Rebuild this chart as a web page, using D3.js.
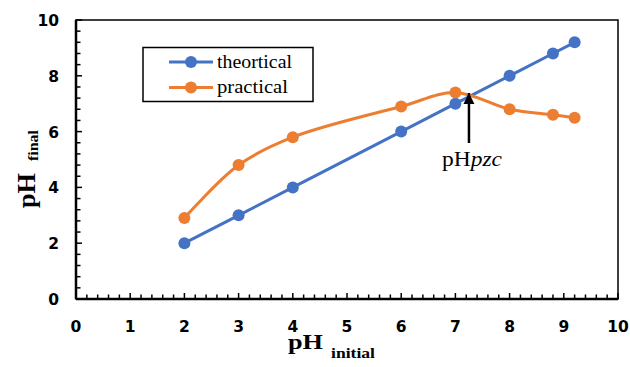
<!DOCTYPE html>
<html><head><meta charset="utf-8">
<script src="https://cdn.jsdelivr.net/npm/d3@7"></script>
<style>body{margin:0;background:#fff}svg{display:block}</style>
</head><body>
<svg id="c" width="630" height="367"></svg>
<script>
const phInitial = [2, 3, 4, 6, 7, 8, 8.8, 9.2];
const theortical = [2, 3, 4, 6, 7, 8, 8.8, 9.2];
const practical = [2.9, 4.8, 5.8, 6.9, 7.4, 6.8, 6.6, 6.5];
const xTicks = [0,1,2,3,4,5,6,7,8,9,10];
const yTicks = [0,2,4,6,8,10];
const seriesNames = ["theortical", "practical"];
const colors = ["#4472C4", "#ED7D31"];
const pzc = 7.25;

const svg = d3.select("#c");
const x = d3.scaleLinear().domain([0,10]).range([76,618]);
const y = d3.scaleLinear().domain([0,10]).range([299,20]);

// frame
svg.append("rect").attr("x",x(0)).attr("y",y(10)).attr("width",x(10)-x(0)).attr("height",y(0)-y(10))
  .attr("fill","none").attr("stroke","#000").attr("stroke-width",1.5);

// minor ticks
const xMinor = d3.range(0,10.001,0.2);
const yMinor = d3.range(0,10.001,0.4);
svg.append("g").selectAll("line").data(xMinor).join("line")
  .attr("x1",d=>x(d)).attr("x2",d=>x(d)).attr("y1",y(0)).attr("y2",d=>y(0)-(Math.abs(d-Math.round(d))<1e-6?6:4.5))
  .attr("stroke","#000").attr("stroke-width",1.5);
svg.append("g").selectAll("line").data(yMinor).join("line")
  .attr("y1",d=>y(d)).attr("y2",d=>y(d)).attr("x1",x(0)).attr("x2",d=>x(0)+(Math.abs(d/2-Math.round(d/2))<1e-6?6:4.5))
  .attr("stroke","#000").attr("stroke-width",1.5);

// axes lines
svg.append("line").attr("x1",x(0)).attr("x2",x(10)).attr("y1",y(0)).attr("y2",y(0)).attr("stroke","#000").attr("stroke-width",2.5);
svg.append("line").attr("x1",x(0)).attr("x2",x(0)).attr("y1",y(0)).attr("y2",y(10)).attr("stroke","#000").attr("stroke-width",2.5);

// tick labels
const tf = "'DejaVu Sans', sans-serif";
svg.append("g").selectAll("text").data(xTicks).join("text")
  .attr("x",d=>x(d)).attr("y",332).attr("text-anchor","middle")
  .attr("font-family",tf).attr("font-weight","bold").attr("font-size",15.5).text(d=>d);
svg.append("g").selectAll("text").data(yTicks).join("text")
  .attr("x",59).attr("y",d=>y(d)+6).attr("text-anchor","end")
  .attr("font-family",tf).attr("font-weight","bold").attr("font-size",15.5).text(d=>d);

// axis titles
const sf = "'Liberation Serif', 'Times New Roman', serif";
svg.append("text").attr("x",288).attr("y",349).attr("font-family",sf).attr("font-weight","bold").attr("font-size",20)
  .attr("textLength",35).attr("lengthAdjust","spacingAndGlyphs").text("pH");
svg.append("text").attr("x",331).attr("y",358).attr("font-family",sf).attr("font-weight","bold").attr("font-size",15)
  .attr("textLength",44).attr("lengthAdjust","spacingAndGlyphs").text("initial");
svg.append("text").attr("transform","translate(35,208) rotate(-90)").attr("font-family",sf).attr("font-weight","bold").attr("font-size",26)
  .attr("textLength",35).attr("lengthAdjust","spacingAndGlyphs").text("pH");
svg.append("text").attr("transform","translate(38,161) rotate(-90)").attr("font-family",sf).attr("font-weight","bold").attr("font-size",15)
  .attr("textLength",31).attr("lengthAdjust","spacingAndGlyphs").text("final");

// lines
const dataSets = [theortical, practical];
const curves = [d3.curveLinear, d3.curveCatmullRom.alpha(0.5)];
dataSets.forEach((vals,i)=>{
  const pts = phInitial.map((v,j)=>[v, vals[j]]);
  svg.append("path").attr("d", d3.line().x(d=>x(d[0])).y(d=>y(d[1])).curve(curves[i])(pts))
    .attr("fill","none").attr("stroke",colors[i]).attr("stroke-width",3);
});
dataSets.forEach((vals,i)=>{
  svg.append("g").selectAll("circle").data(phInitial.map((v,j)=>[v, vals[j]])).join("circle")
    .attr("cx",d=>x(d[0])).attr("cy",d=>y(d[1])).attr("r",6).attr("fill",colors[i]);
});

// legend
const legW = [75, 71];
svg.append("rect").attr("x",143).attr("y",47.5).attr("width",170).attr("height",54).attr("fill","#fff").attr("stroke","#000").attr("stroke-width",1.5);
seriesNames.forEach((n,i)=>{
  const yy = 62 + i*25.5;
  svg.append("line").attr("x1",169).attr("x2",213).attr("y1",yy).attr("y2",yy).attr("stroke",colors[i]).attr("stroke-width",3);
  svg.append("circle").attr("cx",191).attr("cy",yy).attr("r",6).attr("fill",colors[i]);
  svg.append("text").attr("x",217).attr("y",yy+5.5).attr("font-family",sf).attr("font-size",19)
    .attr("textLength",legW[i]).attr("lengthAdjust","spacingAndGlyphs").text(n);
});

// annotation arrow
svg.append("defs").append("marker").attr("id","ah").attr("viewBox","0 0 10 10").attr("refX",10).attr("refY",5)
  .attr("markerWidth",4.5).attr("markerHeight",4.5).attr("markerUnits","strokeWidth").attr("orient","auto")
  .append("path").attr("d","M0,0L10,5L0,10z").attr("fill","#000");
svg.append("line").attr("x1",x(pzc)).attr("x2",x(pzc)).attr("y1",143).attr("y2",93)
  .attr("stroke","#000").attr("stroke-width",2.5).attr("marker-end","url(#ah)");
const at = svg.append("text").attr("x",442).attr("y",166).attr("font-family",sf).attr("font-size",21)
  .attr("textLength",60).attr("lengthAdjust","spacingAndGlyphs");
at.append("tspan").text("pH");
at.append("tspan").attr("font-style","italic").text("pzc");
</script>
</body></html>
